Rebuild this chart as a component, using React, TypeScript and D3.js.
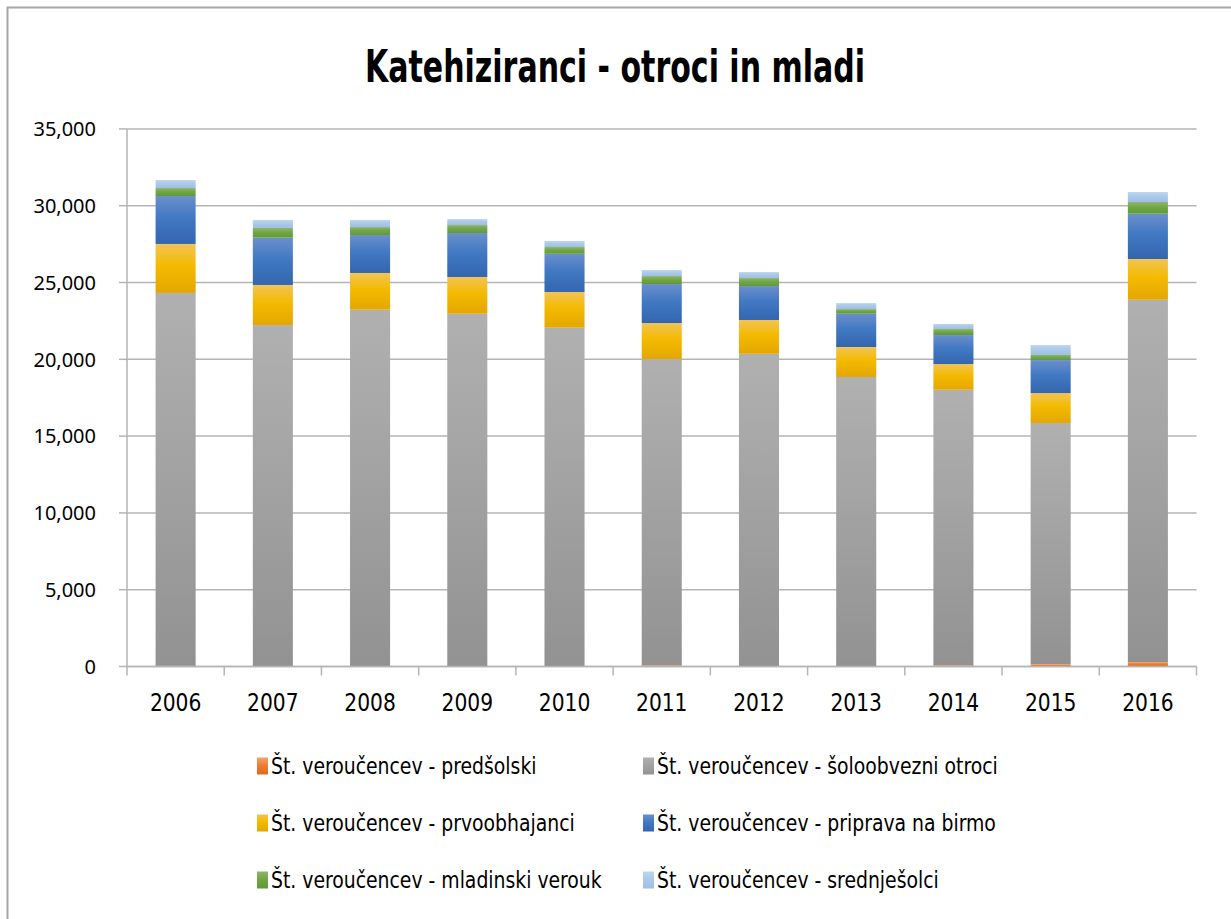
import React from "react";
import * as d3 from "d3";

const years = ["2006", "2007", "2008", "2009", "2010", "2011", "2012", "2013", "2014", "2015", "2016"];
const predsolski = [40, 20, 20, 20, 30, 80, 20, 20, 80, 150, 290];
const soloobvezni = [24280, 22210, 23210, 22950, 22030, 19940, 20340, 18830, 17940, 15700, 23590];
const prvoobhajanci = [3190, 2610, 2390, 2390, 2320, 2340, 2200, 1950, 1670, 1950, 2650];
const priprava = [3120, 3080, 2470, 2860, 2490, 2540, 2210, 2170, 1890, 2150, 2950];
const mladinski = [520, 630, 520, 520, 440, 520, 520, 300, 390, 330, 760];
const srednjesolci = [520, 520, 460, 390, 390, 390, 390, 390, 330, 650, 650];
const yTicks = [0, 5000, 10000, 15000, 20000, 25000, 30000, 35000];

const seriesNames = [
  "Št. veroučencev - predšolski",
  "Št. veroučencev - šoloobvezni otroci",
  "Št. veroučencev - prvoobhajanci",
  "Št. veroučencev - priprava na birmo",
  "Št. veroučencev - mladinski verouk",
  "Št. veroučencev - srednješolci",
];
const seriesKeys = ["predsolski", "soloobvezni", "prvoobhajanci", "priprava", "mladinski", "srednjesolci"];
const seriesValues = [predsolski, soloobvezni, prvoobhajanci, priprava, mladinski, srednjesolci];

// gradient stops (top, mid, bottom)
const gradients: Record<string, [string, string, string]> = {
  predsolski: ["#f2a66a", "#ed7d31", "#d96c22"],
  soloobvezni: ["#b0b0b0", "#a3a3a3", "#929292"],
  prvoobhajanci: ["#f1c455", "#f4ba00", "#e3a700"],
  priprava: ["#6b8fcb", "#4179c3", "#3366ae"],
  mladinski: ["#90b56d", "#70a744", "#609a39"],
  srednjesolci: ["#bfd5ed", "#abc9ea", "#9dbfe6"],
};

const condensed = "'Liberation Sans Narrow', 'DejaVu Sans Condensed', 'Roboto Condensed', 'Arial Narrow', sans-serif";

export default function App() {
  const W = 1231;
  const H = 919;
  const left = 127;
  const right = 1196.5;
  const top = 128.9;
  const bottom = 666.5;

  const table = years.map((y, i) => {
    const row: Record<string, any> = { year: y };
    seriesKeys.forEach((k, j) => (row[k] = seriesValues[j][i]));
    return row;
  });
  const stacked = d3.stack<any>().keys(seriesKeys)(table);

  const x = d3.scaleBand<string>().domain(years).range([left, right]).padding(0);
  const y = d3.scaleLinear().domain([0, 35000]).range([bottom, top]);
  const barW = x.step() * 0.412;
  const fmt = d3.format(",");

  const legendCols = [257, 643];
  const legendRows = [766, 823, 880];

  return (
    <svg width={W} height={H} style={{ position: "absolute", left: 0, top: 0, background: "#fff" }}>
      <defs>
        {seriesKeys.map((k) => (
          <linearGradient key={k} id={"g-" + k} x1="0" y1="0" x2="0" y2="1">
            <stop offset="0%" stopColor={gradients[k][0]} />
            <stop offset="45%" stopColor={gradients[k][1]} />
            <stop offset="100%" stopColor={gradients[k][2]} />
          </linearGradient>
        ))}
      </defs>
      <rect x={0} y={0} width={W} height={H} fill="#fff" />
      <path d={`M7.5,${H} V7.5 H${W}`} fill="none" stroke="#a6a6a6" strokeWidth={2} />

      <text
        x={615}
        y={82}
        textAnchor="middle"
        fontFamily={condensed}
        fontSize={44}
        fontWeight={600}
        textLength={500}
        lengthAdjust="spacingAndGlyphs"
        fill="#000"
      >
        Katehiziranci - otroci in mladi
      </text>

      {yTicks.map((t) => (
        <g key={t}>
          <line x1={left} x2={right} y1={y(t)} y2={y(t)} stroke="#b5b5b5" strokeWidth={1.5} />
          <line x1={119} x2={left} y1={y(t)} y2={y(t)} stroke="#b5b5b5" strokeWidth={1.5} />
          <text
            x={96}
            y={y(t)}
            dy="0.36em"
            textAnchor="end"
            fontFamily="'Noto Sans', 'Open Sans', sans-serif"
            fontSize={20}
            fill="#000"
          >
            {fmt(t)}
          </text>
        </g>
      ))}
      <line x1={left} x2={left} y1={top} y2={bottom} stroke="#b5b5b5" strokeWidth={1.5} />

      {stacked.map((s) => (
        <g key={s.key} fill={`url(#g-${s.key})`}>
          {s.map((d, i) => (
            <rect
              key={i}
              x={(x(years[i]) as number) + (x.step() - barW) / 2}
              y={y(d[1])}
              width={barW}
              height={Math.max(0, y(d[0]) - y(d[1]))}
            />
          ))}
        </g>
      ))}

      <line x1={left} x2={right} y1={bottom} y2={bottom} stroke="#b5b5b5" strokeWidth={1.5} />
      {years.map((yr) => (
        <line
          key={"t" + yr}
          x1={x(yr) as number}
          x2={x(yr) as number}
          y1={bottom}
          y2={bottom + 9}
          stroke="#b5b5b5"
          strokeWidth={1.5}
        />
      ))}
      <line x1={right} x2={right} y1={bottom} y2={bottom + 9} stroke="#b5b5b5" strokeWidth={1.5} />
      {years.map((yr) => (
        <text
          key={"l" + yr}
          transform={`translate(${(x(yr) as number) + x.bandwidth() / 2},711) scale(0.9,1)`}
          textAnchor="middle"
          fontFamily={condensed}
          fontSize={25}
          fill="#000"
        >
          {yr}
        </text>
      ))}

      {seriesKeys.map((k, i) => {
        const cx = legendCols[i % 2];
        const cy = legendRows[Math.floor(i / 2)];
        return (
          <g key={"lg" + k}>
            <rect x={cx} y={cy - 8.5} width={11} height={17} fill={`url(#g-${k})`} />
            <text
              transform={`translate(${cx + 14},${cy}) scale(0.91,1)`}
              dy="0.36em"
              fontFamily={condensed}
              fontSize={23}
              fill="#000"
            >
              {seriesNames[i]}
            </text>
          </g>
        );
      })}
    </svg>
  );
}
